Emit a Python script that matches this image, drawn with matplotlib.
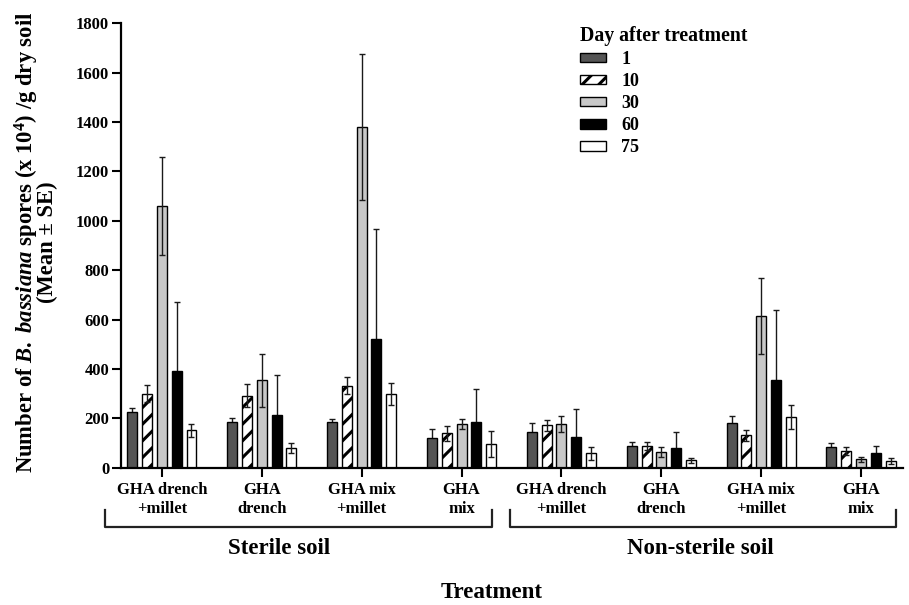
import matplotlib
matplotlib.use('Agg')
import matplotlib.pyplot as plt
import numpy as np

plt.rcParams['font.family'] = ['Liberation Serif', 'DejaVu Serif']
plt.rcParams['font.weight'] = 'bold'
plt.rcParams['mathtext.fontset'] = 'custom'
plt.rcParams['mathtext.rm'] = 'Liberation Serif:bold'
plt.rcParams['mathtext.it'] = 'Liberation Serif:italic:bold'
plt.rcParams['mathtext.bf'] = 'Liberation Serif:bold'
plt.rcParams['hatch.linewidth'] = 2.2

# treatments (4 sterile soil + 4 non-sterile soil)
treatments = ['GHA drench\n+millet', 'GHA\ndrench', 'GHA mix\n+millet', 'GHA\nmix',
              'GHA drench\n+millet', 'GHA\ndrench', 'GHA mix\n+millet', 'GHA\nmix']
days = ['1', '10', '30', '60', '75']

# means per day, one value per treatment
day1 = [225, 186, 185, 122, 146, 88, 180, 82]
day10 = [300, 292, 332, 139, 171, 88, 131, 68]
day30 = [1060, 354, 1381, 178, 177, 65, 616, 34]
day60 = [393, 212, 520, 184, 123, 80, 355, 58]
day75 = [151, 80, 297, 96, 58, 30, 204, 27]

# standard errors
se1 = [17, 14, 12, 35, 36, 15, 29, 17]
se10 = [35, 47, 34, 31, 22, 16, 22, 17]
se30 = [200, 108, 296, 20, 34, 20, 154, 11]
se60 = [280, 163, 445, 135, 113, 66, 285, 31]
se75 = [27, 21, 44, 51, 27, 11, 49, 14]

means = [day1, day10, day30, day60, day75]
errs = [se1, se10, se30, se60, se75]
fills = ['#555555', 'white', '#c8c8c8', 'black', 'white']
hatches = [None, '//', None, None, None]
# dark bars hide the lower half of their error bars
err_z = [1.5, 3, 3, 1.5, 3]

fig = plt.figure(figsize=(9.09, 6.05), dpi=100)
ax = fig.add_axes([0.1331, 0.227, 0.8603, 0.7345])

x = np.arange(len(treatments))
w = 0.10
step = 0.148
for i in range(5):
    pos = x + (i - 2) * step
    ax.bar(pos, means[i], width=w, color=fills[i], edgecolor='black', linewidth=1.0,
           hatch=hatches[i], label=days[i], zorder=2)
    ax.errorbar(pos, means[i], yerr=errs[i], fmt='none', ecolor='#1a1a1a',
                elinewidth=1.0, capsize=2.5, capthick=1.0, zorder=err_z[i])

ax.set_xlim(-0.41, 7.42)
ax.set_ylim(0, 1800)
ax.set_yticks(np.arange(0, 1801, 200))
ax.set_xticks(x)
ax.set_xticklabels(treatments, linespacing=1.25)
ax.tick_params(axis='both', width=1.5, length=6.5)
ax.tick_params(axis='y', labelsize=12, pad=2)
ax.tick_params(axis='x', labelsize=12, pad=4)
for s in ['top', 'right']:
    ax.spines[s].set_visible(False)
for s in ['left', 'bottom']:
    ax.spines[s].set_linewidth(1.6)

# brackets under the tick labels
tr = ax.get_xaxis_transform()
for x0, x1 in [(-0.57, 3.30), (3.49, 7.35)]:
    ax.plot([x0, x0, x1, x1], [-0.095, -0.1334, -0.1334, -0.095], color='#222222',
            lw=1.6, transform=tr, clip_on=False)
ax.text(1.17, -0.181, 'Sterile soil', transform=tr, ha='center', va='center', fontsize=16.5)
ax.text(5.39, -0.181, 'Non-sterile soil', transform=tr, ha='center', va='center', fontsize=16.5)
ax.text(0.474, -0.282, 'Treatment', transform=ax.transAxes, ha='center', va='center', fontsize=16.5)

fig.text(0.039, 0.6, 'Number of $\\mathit{B.}$ $\\mathit{bassiana}$ spores (x 10$^{4}$) /g dry soil\n(Mean \u00b1 SE)',
         rotation=90, ha='center', va='center', multialignment='center', fontsize=16.3,
         linespacing=0.8)

leg = ax.legend(title='Day after treatment', loc='upper left', bbox_to_anchor=(0.566, 1.03),
                frameon=False, fontsize=13, title_fontsize=14.2, handlelength=1.44,
                handleheight=0.4, handletextpad=0.85, labelspacing=0.28, alignment='left')

fig.savefig('out.png', dpi=100)
